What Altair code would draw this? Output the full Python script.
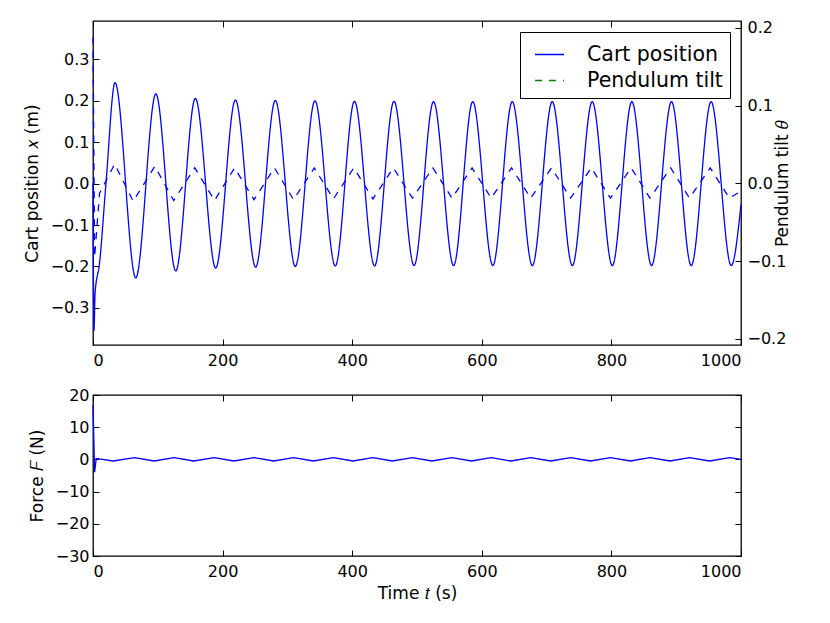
import altair as alt
import pandas as pd

# ---------------- data ----------------
cart_t = [0, 1.5, 3.2, 10, 20, 34, 66, 97, 127.7, 158, 189.4, 219.8, 251, 281.4, 312.2,
          342.5, 373.9, 403.5, 434.5, 464.5, 495.5, 525.5, 556.5, 586, 617, 647, 678,
          708.7, 739.7, 770.4, 801.4, 831.6, 862, 892.8, 923.2, 953.9, 984.9, 1000]
cart_x = [0.0, -0.355, -0.265, -0.193, 0.0, 0.244, -0.228, 0.217, -0.211, 0.206,
          -0.204, 0.202, -0.202, 0.201, -0.200, 0.200, -0.199, 0.199, -0.199, 0.199,
          -0.198, 0.198, -0.198, 0.198, -0.198, 0.198, -0.198, 0.198, -0.198, 0.198,
          -0.198, 0.198, -0.198, 0.198, -0.198, 0.198, -0.198, -0.05]

tilt_t = [0, 2.5, 10, 33.5, 62, 95.5, 124.5, 157, 187.5, 218.5, 248.5, 280, 309.5,
          341.5, 371, 402.5, 432, 463.5, 493, 524.5, 554, 585, 614.5, 646, 675.5,
          707.5, 737, 769, 798.5, 830.5, 859.5, 891.5, 920.5, 952.5, 982, 1000]
tilt_v = [0.188, -0.095, -0.013, 0.025, -0.023, 0.022, -0.022, 0.020, -0.022, 0.020,
          -0.021, 0.020, -0.021, 0.020, -0.020, 0.020, -0.020, 0.020, -0.019, 0.020,
          -0.019, 0.020, -0.019, 0.020, -0.019, 0.020, -0.019, 0.020, -0.019, 0.020,
          -0.019, 0.020, -0.019, 0.020, -0.019, -0.01]

force_t = [0, 2.5, 5, 31, 64, 94.5, 125, 155.5, 187, 217.5, 248.5, 279, 309.5, 340,
           371, 401, 432, 462, 493, 523, 554, 584, 614.5, 645, 675.5, 706.5, 737, 768,
           798.5, 829.5, 859.5, 890.5, 920.5, 951.5, 982.5, 1000]
force_v = [17, -4, 0.3, -0.5, 0.55, -0.5, 0.55, -0.5, 0.55, -0.5, 0.55, -0.5, 0.55,
           -0.5, 0.55, -0.5, 0.55, -0.5, 0.55, -0.5, 0.55, -0.5, 0.55, -0.5, 0.55,
           -0.5, 0.55, -0.5, 0.55, -0.5, 0.55, -0.5, 0.55, -0.5, 0.55, 0.0]

series_names = ["Cart position", "Pendulum tilt"]
x_ticks = [0, 200, 400, 600, 800, 1000]
cart_ticks = [-0.3, -0.2, -0.1, 0.0, 0.1, 0.2, 0.3]
tilt_ticks = [-0.2, -0.1, 0.0, 0.1, 0.2]
force_ticks = [-30, -20, -10, 0, 10, 20]

x_dom = [0, 1000]
cart_dom = [-0.39, 0.393]
tilt_dom = [-0.208, 0.209]
force_dom = [-30, 20]

# ---------------- styling ----------------
W, H1, H2 = 648, 324, 161
FONT = "DejaVu Sans"
BLUE = "#0000ff"
GREEN = "#008000"
LW = 1.3
DASH = [7, 7]

cart_df = pd.DataFrame({"t": cart_t, "value": cart_x, "series": "Cart position"})
tilt_df = pd.DataFrame({"t": tilt_t, "value": tilt_v})
force_df = pd.DataFrame({"t": force_t, "value": force_v})


def sc(dom):
    return alt.Scale(domain=dom, nice=False, zero=False)


common = dict(ticks=False, tickSize=0, domain=False, grid=False, labelFont=FONT,
              labelFontSize=16, labelColor="black", titleFont=FONT, titleFontSize=17,
              titleFontWeight="normal", titleColor="black")


def tick_axis(orient, offset, values):
    return alt.Axis(orient=orient, offset=offset, values=values, labels=False,
                    title=None, domain=False, grid=False, ticks=True, tickSize=6,
                    tickColor="black", tickWidth=1)


legend = alt.Legend(title=None, orient="top-right", offset=11, symbolType="stroke",
                    symbolSize=841, symbolStrokeWidth=LW, labelFont=FONT,
                    labelFontSize=20.5, labelColor="black", labelOffset=22,
                    padding=7, strokeColor="black", fillColor="white", rowPadding=0,
                    symbolOffset=7, cornerRadius=0)

# ---------------- top panel ----------------
cart_line = alt.Chart(cart_df).mark_line(strokeWidth=LW, interpolate="monotone").encode(
    x=alt.X("t:Q", scale=sc(x_dom),
            axis=alt.Axis(orient="bottom", values=x_ticks, format="d", title=None,
                          labelPadding=7, **common)),
    y=alt.Y("value:Q", scale=sc(cart_dom),
            axis=alt.Axis(orient="left", values=cart_ticks, format=".1f",
                          title="Cart position 𝑥 (m)", labelPadding=4, titlePadding=9,
                          **common)),
    color=alt.Color("series:N", scale=alt.Scale(domain=series_names, range=[BLUE, GREEN]),
                    legend=legend),
    strokeDash=alt.StrokeDash("series:N",
                              scale=alt.Scale(domain=series_names, range=[[1, 0], DASH]),
                              legend=legend),
)

tilt_line = alt.Chart(tilt_df).mark_line(color=BLUE, strokeWidth=LW, strokeDash=DASH).encode(
    x=alt.X("t:Q", scale=sc(x_dom), axis=None),
    y=alt.Y("value:Q", scale=sc(tilt_dom),
            axis=alt.Axis(orient="right", values=tilt_ticks, format=".1f",
                          title="Pendulum tilt 𝜃", titleAngle=270, labelPadding=6,
                          titlePadding=6, **common)),
)

ticks_a = alt.Chart(cart_df).mark_line(opacity=0).encode(
    x=alt.X("t:Q", scale=sc(x_dom), axis=tick_axis("top", -H1, x_ticks)),
    y=alt.Y("value:Q", scale=sc(cart_dom), axis=tick_axis("right", -W, cart_ticks)),
)
ticks_b = alt.Chart(tilt_df).mark_line(opacity=0).encode(
    x=alt.X("t:Q", scale=sc(x_dom), axis=tick_axis("bottom", -H1, x_ticks)),
    y=alt.Y("value:Q", scale=sc(tilt_dom), axis=tick_axis("left", -W, tilt_ticks)),
)

top = alt.layer(cart_line, tilt_line, ticks_a, ticks_b).resolve_scale(
    x="independent", y="independent").properties(width=W, height=H1)

# ---------------- bottom panel ----------------
force_line = alt.Chart(force_df).mark_line(color=BLUE, strokeWidth=LW).encode(
    x=alt.X("t:Q", scale=sc(x_dom),
            axis=alt.Axis(orient="bottom", values=x_ticks, format="d",
                          title="Time 𝑡 (s)", labelPadding=7, titlePadding=6, **common)),
    y=alt.Y("value:Q", scale=sc(force_dom),
            axis=alt.Axis(orient="left", values=force_ticks, format="d",
                          title="Force 𝐹 (N)", labelPadding=4, titlePadding=9, **common)),
)
ticks_c = alt.Chart(force_df).mark_line(opacity=0).encode(
    x=alt.X("t:Q", scale=sc(x_dom), axis=tick_axis("top", -H2, x_ticks)),
    y=alt.Y("value:Q", scale=sc(force_dom), axis=tick_axis("right", -W, force_ticks)),
)
ticks_d = alt.Chart(force_df).mark_line(opacity=0).encode(
    x=alt.X("t:Q", scale=sc(x_dom), axis=tick_axis("bottom", -H2, x_ticks)),
    y=alt.Y("value:Q", scale=sc(force_dom), axis=tick_axis("left", -W, force_ticks)),
)

bottom = alt.layer(force_line, ticks_c, ticks_d).resolve_scale(
    x="independent", y="independent").properties(width=W, height=H2)

chart = alt.vconcat(top, bottom, spacing=17).properties(
    padding={"left": 14, "top": 11, "right": 5, "bottom": 5},
    background="white",
).configure_view(stroke="black", strokeWidth=1.3)

chart.save("out.html", embed_options={"renderer": "svg", "actions": False})
